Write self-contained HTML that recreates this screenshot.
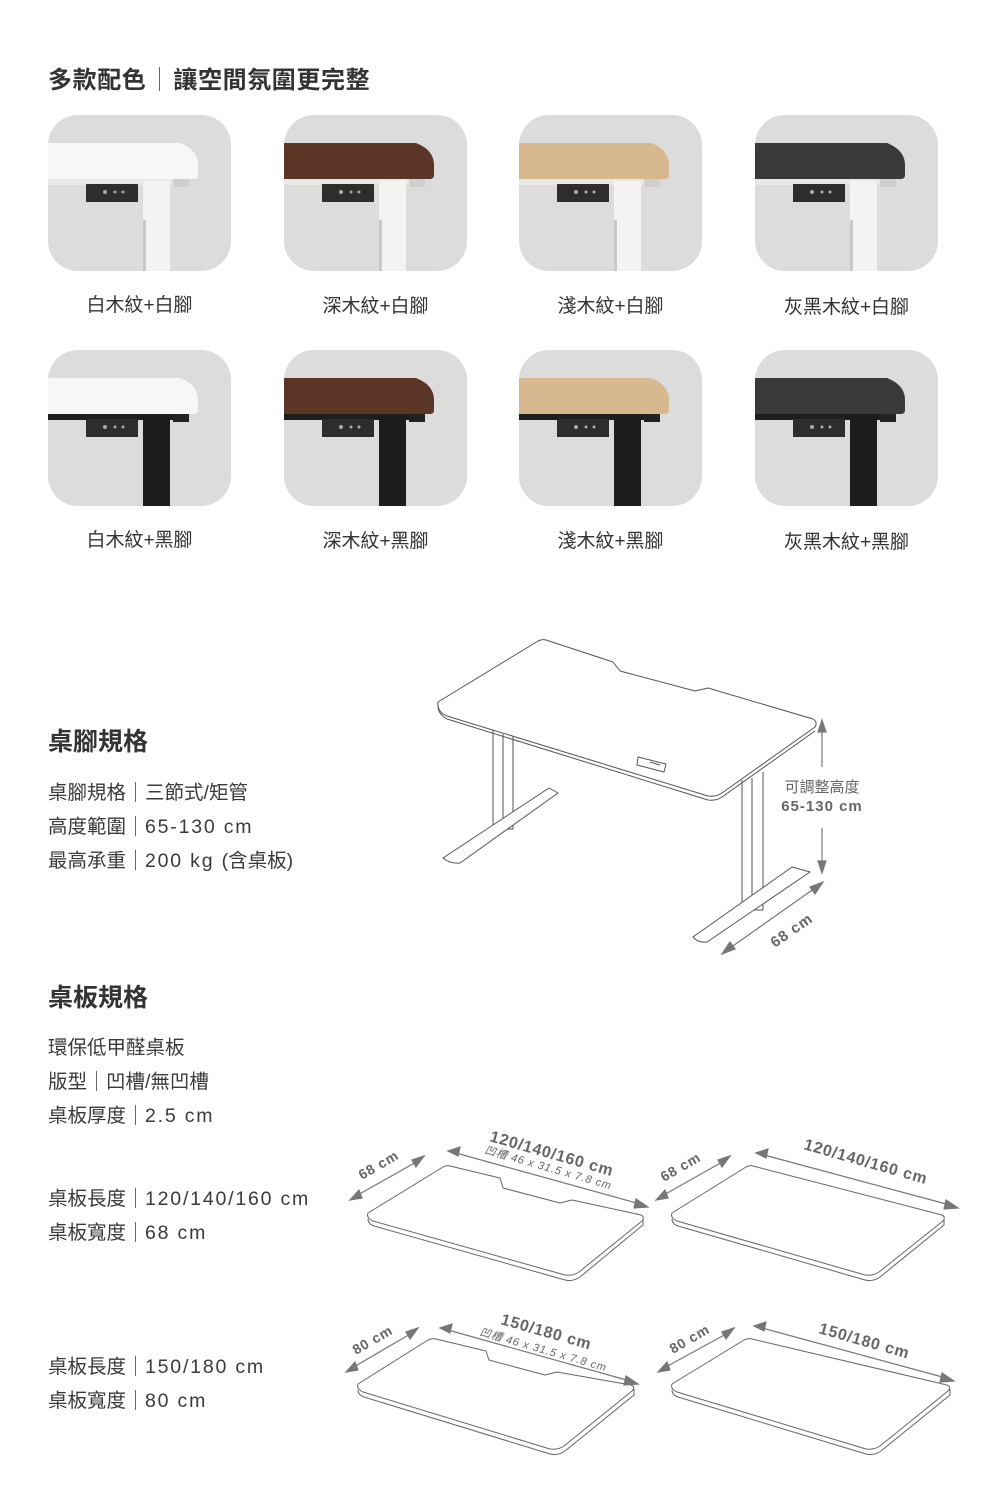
<!DOCTYPE html>
<html><head><meta charset="utf-8"><style>
html,body{margin:0;padding:0;background:#fff;}
body{width:1000px;height:1500px;position:relative;overflow:hidden;font-family:"Liberation Sans","Noto Sans CJK TC",sans-serif;color:#333;}
.t{position:absolute;white-space:nowrap;}
.h1{font-size:24px;font-weight:bold;color:#333;letter-spacing:0.6px;}
.h2{font-size:25px;font-weight:bold;color:#333;}
.s{font-size:19.5px;color:#3a3a3a;}
.n{letter-spacing:1.8px;}
.lab{font-size:19px;color:#333;width:183px;text-align:center;}
.bar{display:inline-block;width:1px;height:20px;background:#666;margin:0 9px;vertical-align:-3px;}
</style></head><body>
<svg width="1000" height="1500" style="position:absolute;left:0;top:0">
<defs>
<clipPath id="c"><rect x="0" y="0" width="183" height="156" rx="30"/></clipPath>
</defs>
<g font-family="Liberation Sans">
<g transform="translate(48,115)" clip-path="url(#c)"><rect width="183" height="156" fill="#dcdcdc"/><rect x="-5" y="63" width="130" height="7" fill="#e8e8e8"/><rect x="125" y="63" width="16" height="9" fill="#cfcfcf"/><rect x="95" y="66" width="27" height="95" fill="#f3f3f3"/><rect x="95" y="105" width="3" height="55" fill="#c8c8c8"/><path d="M-5 28H132Q150 35 150 50V60Q150 64 146 64H-5Z" fill="#f7f7f7"/><rect x="38" y="69" width="52" height="18" fill="#2d2d2d"/><circle cx="57" cy="77" r="2" fill="#aaa"/><circle cx="67" cy="77" r="1.5" fill="#aaa"/><circle cx="75" cy="77" r="1.5" fill="#aaa"/></g>
<g transform="translate(284,115)" clip-path="url(#c)"><rect width="183" height="156" fill="#dcdcdc"/><rect x="-5" y="63" width="130" height="7" fill="#e8e8e8"/><rect x="125" y="63" width="16" height="9" fill="#cfcfcf"/><rect x="95" y="66" width="27" height="95" fill="#f3f3f3"/><rect x="95" y="105" width="3" height="55" fill="#c8c8c8"/><path d="M-5 28H132Q150 35 150 50V60Q150 64 146 64H-5Z" fill="#5b3626"/><rect x="38" y="69" width="52" height="18" fill="#2d2d2d"/><circle cx="57" cy="77" r="2" fill="#aaa"/><circle cx="67" cy="77" r="1.5" fill="#aaa"/><circle cx="75" cy="77" r="1.5" fill="#aaa"/></g>
<g transform="translate(519,115)" clip-path="url(#c)"><rect width="183" height="156" fill="#dcdcdc"/><rect x="-5" y="63" width="130" height="7" fill="#e8e8e8"/><rect x="125" y="63" width="16" height="9" fill="#cfcfcf"/><rect x="95" y="66" width="27" height="95" fill="#f3f3f3"/><rect x="95" y="105" width="3" height="55" fill="#c8c8c8"/><path d="M-5 28H132Q150 35 150 50V60Q150 64 146 64H-5Z" fill="#d8b88f"/><rect x="38" y="69" width="52" height="18" fill="#2d2d2d"/><circle cx="57" cy="77" r="2" fill="#aaa"/><circle cx="67" cy="77" r="1.5" fill="#aaa"/><circle cx="75" cy="77" r="1.5" fill="#aaa"/></g>
<g transform="translate(755,115)" clip-path="url(#c)"><rect width="183" height="156" fill="#dcdcdc"/><rect x="-5" y="63" width="130" height="7" fill="#e8e8e8"/><rect x="125" y="63" width="16" height="9" fill="#cfcfcf"/><rect x="95" y="66" width="27" height="95" fill="#f3f3f3"/><rect x="95" y="105" width="3" height="55" fill="#c8c8c8"/><path d="M-5 28H132Q150 35 150 50V60Q150 64 146 64H-5Z" fill="#3a3a3a"/><rect x="38" y="69" width="52" height="18" fill="#2d2d2d"/><circle cx="57" cy="77" r="2" fill="#aaa"/><circle cx="67" cy="77" r="1.5" fill="#aaa"/><circle cx="75" cy="77" r="1.5" fill="#aaa"/></g>
<g transform="translate(48,350)" clip-path="url(#c)"><rect width="183" height="156" fill="#dcdcdc"/><rect x="-5" y="63" width="130" height="7" fill="#1e1e1e"/><rect x="125" y="63" width="16" height="9" fill="#222"/><rect x="95" y="66" width="27" height="95" fill="#1c1c1c"/><path d="M-5 28H132Q150 35 150 50V60Q150 64 146 64H-5Z" fill="#f7f7f7"/><rect x="38" y="69" width="52" height="18" fill="#2d2d2d"/><circle cx="57" cy="77" r="2" fill="#aaa"/><circle cx="67" cy="77" r="1.5" fill="#aaa"/><circle cx="75" cy="77" r="1.5" fill="#aaa"/></g>
<g transform="translate(284,350)" clip-path="url(#c)"><rect width="183" height="156" fill="#dcdcdc"/><rect x="-5" y="63" width="130" height="7" fill="#1e1e1e"/><rect x="125" y="63" width="16" height="9" fill="#222"/><rect x="95" y="66" width="27" height="95" fill="#1c1c1c"/><path d="M-5 28H132Q150 35 150 50V60Q150 64 146 64H-5Z" fill="#5b3626"/><rect x="38" y="69" width="52" height="18" fill="#2d2d2d"/><circle cx="57" cy="77" r="2" fill="#aaa"/><circle cx="67" cy="77" r="1.5" fill="#aaa"/><circle cx="75" cy="77" r="1.5" fill="#aaa"/></g>
<g transform="translate(519,350)" clip-path="url(#c)"><rect width="183" height="156" fill="#dcdcdc"/><rect x="-5" y="63" width="130" height="7" fill="#1e1e1e"/><rect x="125" y="63" width="16" height="9" fill="#222"/><rect x="95" y="66" width="27" height="95" fill="#1c1c1c"/><path d="M-5 28H132Q150 35 150 50V60Q150 64 146 64H-5Z" fill="#d8b88f"/><rect x="38" y="69" width="52" height="18" fill="#2d2d2d"/><circle cx="57" cy="77" r="2" fill="#aaa"/><circle cx="67" cy="77" r="1.5" fill="#aaa"/><circle cx="75" cy="77" r="1.5" fill="#aaa"/></g>
<g transform="translate(755,350)" clip-path="url(#c)"><rect width="183" height="156" fill="#dcdcdc"/><rect x="-5" y="63" width="130" height="7" fill="#1e1e1e"/><rect x="125" y="63" width="16" height="9" fill="#222"/><rect x="95" y="66" width="27" height="95" fill="#1c1c1c"/><path d="M-5 28H132Q150 35 150 50V60Q150 64 146 64H-5Z" fill="#3a3a3a"/><rect x="38" y="69" width="52" height="18" fill="#2d2d2d"/><circle cx="57" cy="77" r="2" fill="#aaa"/><circle cx="67" cy="77" r="1.5" fill="#aaa"/><circle cx="75" cy="77" r="1.5" fill="#aaa"/></g>
</g>

<g fill="none" stroke="#555" stroke-width="1" stroke-linejoin="round">
<path d="M493 730V829H513V736"/><line x1="503" y1="734" x2="503" y2="829"/>
<path d="M443 858L549 788L558 793L460 863Q450 864 443 858Z" fill="#fff"/>
<path d="M742 780V910H763V772"/><line x1="752" y1="778" x2="752" y2="910"/>
<path d="M693 937L792 867L810 872L707 942Q698 943 693 937Z" fill="#fff"/>
<path d="M438 702L538 641Q542 639 546 640L613 662L620 671L695 691L708 688L813 719Q818 722 815 727L722 793Q716 797 708 796L447 716Q437 712 438 702Z" fill="#fff"/>
<path d="M438 706Q438 714 447 719L708 800Q716 801 722 797L815 731"/>
<path d="M638 757L666 764L664 772L637 765Z" fill="#fff"/>
<line x1="650" y1="762" x2="660" y2="765"/>
</g>
<g stroke="#777" stroke-width="1.2" fill="#777">
<line x1="822" y1="726" x2="822" y2="767"/><path d="M822 720L818 732H826Z"/>
<line x1="822" y1="828" x2="822" y2="866"/><path d="M822 873L818 861H826Z"/>
<line x1="730" y1="948" x2="815" y2="888"/><path d="M722 954L730 942L735 949Z"/><path d="M823 882L810 887L815 894Z"/>
</g>
<text x="822" y="792" font-size="15" fill="#666" text-anchor="middle" font-family="Liberation Sans,Noto Sans CJK TC,sans-serif">可調整高度</text>
<text x="822" y="811" font-size="15" fill="#666" text-anchor="middle" font-family="Liberation Sans,sans-serif" font-weight="bold" letter-spacing="1">65-130 cm</text>
<text transform="translate(775,948) rotate(-35)" font-size="15" fill="#666" font-family="Liberation Sans,sans-serif" font-weight="bold" letter-spacing="1">68 cm</text>

<g fill="#fff" stroke="#666" stroke-width="1" stroke-linejoin="round">
<path d="M368 1219Q368 1224 374 1226L565 1280Q573 1282 580 1277L643 1225V1219"/>
<path d="M368 1213L443 1167Q446 1165 450 1166L500 1178L503 1188L560 1203L572 1200L641 1215Q645 1217 642 1221L579 1272Q573 1276 565 1275L373 1221Q366 1218 368 1213Z"/>
<path d="M672 1219Q672 1224 678 1226L865 1280Q873 1282 880 1277L944 1225V1219"/>
<path d="M672 1213L746 1167Q749 1165 753 1166L942 1215Q946 1217 943 1221L879 1272Q873 1276 865 1275L677 1221Q670 1218 672 1213Z"/>
<path d="M358 1390Q358 1395 364 1397L550 1454Q558 1456 565 1451L634 1395V1389"/>
<path d="M358 1384L428 1340Q432 1338 436 1339L486 1351L489 1360L545 1375L557 1372L631 1385Q636 1387 632 1391L564 1446Q558 1450 550 1449L363 1392Q356 1389 358 1384Z"/>
<path d="M672 1390Q672 1395 678 1397L866 1454Q874 1456 881 1451L950 1395V1389"/>
<path d="M672 1384L744 1340Q748 1338 752 1339L947 1385Q952 1387 948 1391L880 1446Q874 1450 866 1449L677 1392Q670 1389 672 1384Z"/>
</g>
<g stroke="#777" stroke-width="1.2" fill="#777">
<line x1="356" y1="1196" x2="418" y2="1161"/><path d="M350 1200L359 1190L362 1198Z"/><path d="M424 1156L412 1160L416 1167Z"/>
<line x1="456" y1="1153" x2="640" y2="1204"/><path d="M448 1151L460 1147L458 1156Z"/><path d="M648 1207L636 1199L634 1208Z"/>
<line x1="662" y1="1196" x2="724" y2="1161"/><path d="M656 1200L665 1190L668 1198Z"/><path d="M730 1156L718 1160L722 1167Z"/>
<line x1="764" y1="1155" x2="950" y2="1205"/><path d="M756 1153L768 1149L766 1158Z"/><path d="M958 1208L946 1200L944 1209Z"/>
<line x1="352" y1="1368" x2="412" y2="1333"/><path d="M346 1372L355 1362L358 1370Z"/><path d="M418 1328L406 1332L410 1339Z"/>
<line x1="448" y1="1330" x2="630" y2="1381"/><path d="M440 1328L452 1324L450 1333Z"/><path d="M638 1384L626 1376L624 1385Z"/>
<line x1="664" y1="1368" x2="728" y2="1333"/><path d="M658 1372L667 1362L670 1370Z"/><path d="M734 1328L722 1332L726 1339Z"/>
<line x1="762" y1="1328" x2="946" y2="1378"/><path d="M754 1326L766 1322L764 1331Z"/><path d="M954 1381L942 1373L940 1382Z"/>
</g>
<g fill="#666" font-family="Liberation Sans,Noto Sans CJK TC,sans-serif" font-weight="bold" letter-spacing="0.8">
<text transform="translate(362,1180) rotate(-30)" font-size="14">68 cm</text>
<text transform="translate(489,1141) rotate(16)" font-size="16">120/140/160 cm</text>
<text transform="translate(484,1153) rotate(16)" font-size="11" font-weight="normal" font-style="italic">凹槽 46 x 31.5 x 7.8 cm</text>
<text transform="translate(664,1182) rotate(-30)" font-size="14">68 cm</text>
<text transform="translate(803,1149) rotate(16)" font-size="16">120/140/160 cm</text>
<text transform="translate(356,1355) rotate(-30)" font-size="14">80 cm</text>
<text transform="translate(500,1324) rotate(16)" font-size="16">150/180 cm</text>
<text transform="translate(479,1335) rotate(16)" font-size="11" font-weight="normal" font-style="italic">凹槽 46 x 31.5 x 7.8 cm</text>
<text transform="translate(673,1354) rotate(-30)" font-size="14">80 cm</text>
<text transform="translate(818,1333) rotate(16)" font-size="16">150/180 cm</text>
</g>
</svg>

<div class="t h1" style="left:48px;top:60px">多款配色<span class="bar" style="height:24px;margin:0 13px"></span>讓空間氛圍更完整</div>
<div class="t lab" style="left:48px;top:290px">白木紋+白腳</div>
<div class="t lab" style="left:284px;top:291px">深木紋+白腳</div>
<div class="t lab" style="left:519px;top:291px">淺木紋+白腳</div>
<div class="t lab" style="left:755px;top:292px">灰黑木紋+白腳</div>
<div class="t lab" style="left:48px;top:525px">白木紋+黑腳</div>
<div class="t lab" style="left:284px;top:526px">深木紋+黑腳</div>
<div class="t lab" style="left:519px;top:526px">淺木紋+黑腳</div>
<div class="t lab" style="left:755px;top:527px">灰黑木紋+黑腳</div>

<div class="t h2" style="left:48px;top:722px">桌腳規格</div>
<div class="t s" style="left:48px;top:776px">桌腳規格<span class="bar"></span>三節式/矩管</div>
<div class="t s" style="left:48px;top:810px">高度範圍<span class="bar"></span><span class="n">65-130 cm</span></div>
<div class="t s" style="left:48px;top:844px">最高承重<span class="bar"></span><span class="n">200 kg </span>(含桌板)</div>

<div class="t h2" style="left:48px;top:978px">桌板規格</div>
<div class="t s" style="left:48px;top:1031px">環保低甲醛桌板</div>
<div class="t s" style="left:48px;top:1065px">版型<span class="bar"></span>凹槽/無凹槽</div>
<div class="t s" style="left:48px;top:1099px">桌板厚度<span class="bar"></span><span class="n">2.5 cm</span></div>
<div class="t s" style="left:48px;top:1182px">桌板長度<span class="bar"></span><span class="n">120/140/160 cm</span></div>
<div class="t s" style="left:48px;top:1216px">桌板寬度<span class="bar"></span><span class="n">68 cm</span></div>
<div class="t s" style="left:48px;top:1350px">桌板長度<span class="bar"></span><span class="n">150/180 cm</span></div>
<div class="t s" style="left:48px;top:1384px">桌板寬度<span class="bar"></span><span class="n">80 cm</span></div>
</body></html>
